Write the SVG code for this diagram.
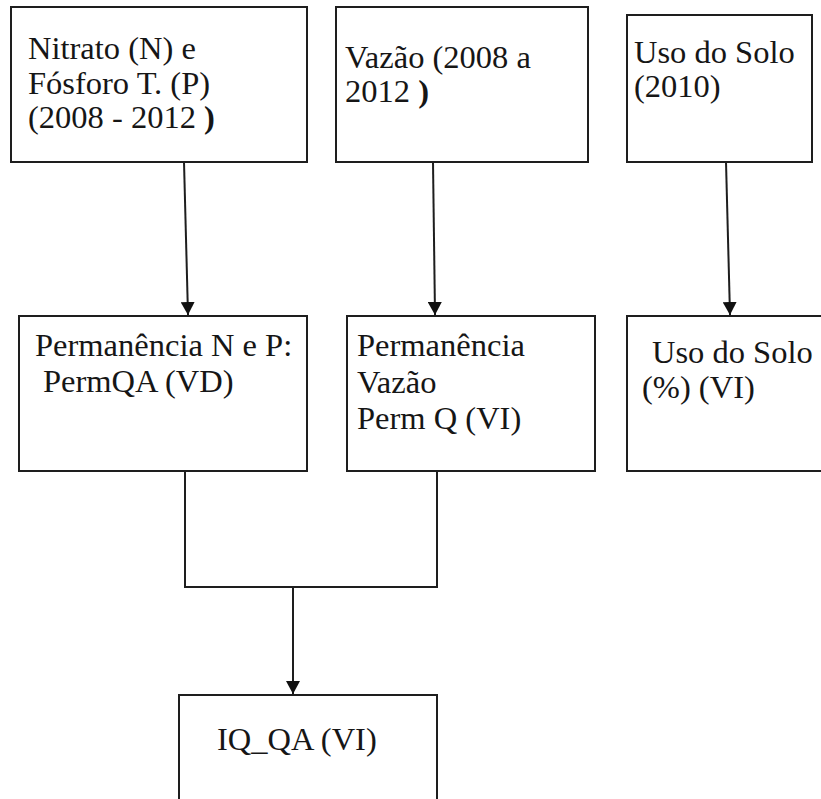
<svg xmlns="http://www.w3.org/2000/svg" width="821" height="799" viewBox="0 0 821 799">
  <style>
    .box { fill: #ffffff; stroke: #1e1e1e; stroke-width: 2; }
    .lbl { font-size: 32.5px; fill: #161616; }
    .wire { fill: none; stroke: #1e1e1e; stroke-width: 2; }
  </style>
  <defs>
    <marker id="head" viewBox="0 0 14 14" refX="13" refY="7" markerWidth="14" markerHeight="14" markerUnits="userSpaceOnUse" orient="auto">
      <path d="M0,0 L13,7 L0,14 Z" fill="#111111"/>
    </marker>
  </defs>
  <rect width="821" height="799" fill="#ffffff"/>

  <g font-family="'Liberation Serif', 'DejaVu Serif', serif">
  <!-- top row: data sources -->
  <g id="nitrato">
    <rect class="box" x="11" y="7" width="296" height="155"/>
    <text class="lbl" x="28" y="59">Nitrato (N) e</text>
    <text class="lbl" x="28" y="94">Fósforo T. (P)</text>
    <text class="lbl" x="28" y="128">(2008 - 2012 <tspan font-weight="bold">)</tspan></text>
  </g>
  <g id="vazao">
    <rect class="box" x="336" y="7" width="252" height="155"/>
    <text class="lbl" x="345" y="68">Vazão (2008 a</text>
    <text class="lbl" x="345" y="102">2012 <tspan font-weight="bold">)</tspan></text>
  </g>
  <g id="uso-solo">
    <rect class="box" x="627" y="15" width="185" height="147"/>
    <text class="lbl" x="634" y="63">Uso do Solo</text>
    <text class="lbl" x="634" y="97">(2010)</text>
  </g>

  <!-- middle row: derived variables -->
  <g id="perm-np">
    <rect class="box" x="19" y="316" width="288" height="155"/>
    <text class="lbl" x="35" y="356">Permanência N e P:</text>
    <text class="lbl" x="43" y="392">PermQA (VD)</text>
  </g>
  <g id="perm-vazao">
    <rect class="box" x="347" y="316" width="248" height="155"/>
    <text class="lbl" x="357" y="356">Permanência</text>
    <text class="lbl" x="357" y="393">Vazão</text>
    <text class="lbl" x="357" y="429">Perm Q (VI)</text>
  </g>
  <g id="uso-solo-pct">
    <rect class="box" x="627" y="316" width="200" height="155"/>
    <text class="lbl" x="652" y="363">Uso do Solo</text>
    <text class="lbl" x="642" y="398">(%) (VI)</text>
  </g>

  <!-- bottom: index -->
  <g id="iq-qa">
    <rect class="box" x="179" y="695" width="258" height="120"/>
    <text class="lbl" x="217" y="750">IQ_QA (VI)</text>
  </g>
  </g>

  <!-- connectors -->
  <g id="connectors">
    <line class="wire" x1="184" y1="162" x2="188" y2="315" marker-end="url(#head)"/>
    <line class="wire" x1="433" y1="162" x2="435" y2="315" marker-end="url(#head)"/>
    <line class="wire" x1="726" y1="162" x2="730" y2="315" marker-end="url(#head)"/>
    <polyline class="wire" points="185,471 185,587 437,587 437,471"/>
    <line class="wire" x1="293" y1="587" x2="293" y2="694" marker-end="url(#head)"/>
  </g>
</svg>
